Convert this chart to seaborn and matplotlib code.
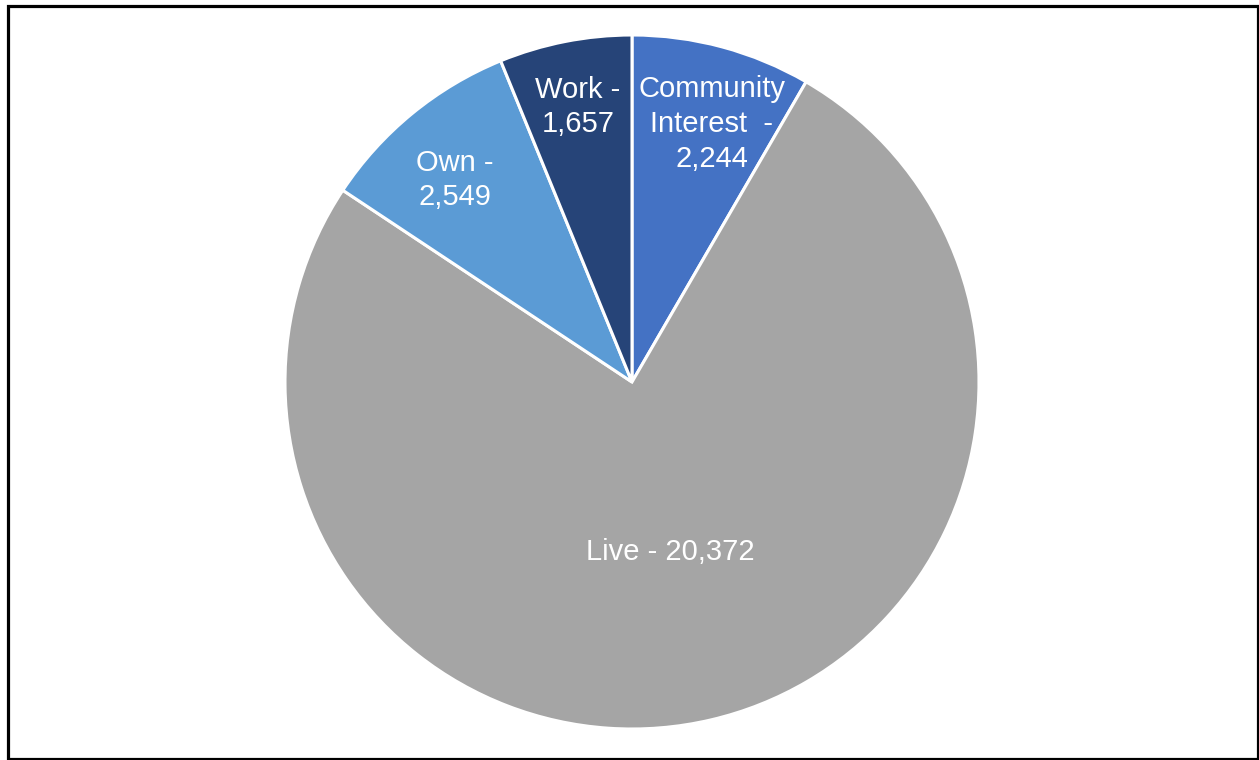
import numpy as np
import seaborn as sns
import matplotlib.pyplot as plt
from matplotlib.patches import Rectangle

sns.set_theme(style="white")
plt.rcParams['font.family'] = ['Liberation Sans', 'DejaVu Sans']

# data, in drawing order (clockwise from 12 o'clock)
categories = ["Community Interest", "Live", "Own", "Work"]
values = [2244, 20372, 2549, 1657]
labels = ["Community\nInterest  -\n2,244", "Live - 20,372", "Own -\n2,549", "Work -\n1,657"]
colors = ["#4472C4", "#A5A5A5", "#5B9BD5", "#264478"]
label_dist = [0.778, 0.502, 0.774, 0.808]
label_turn = [-2.1, -0.6, 1.9, 0.0]   # small nudge (deg) from the wedge mid angle

fig = plt.figure(figsize=(12.59, 7.60), dpi=100)
ax = fig.add_axes([0, 0, 1, 1])

wedges, _ = ax.pie(values, colors=colors, startangle=90, counterclock=False,
                   radius=1, wedgeprops=dict(edgecolor="white", linewidth=2.2))

# label each wedge near its mid angle
for w, lab, d, t in zip(wedges, labels, label_dist, label_turn):
    ang = np.deg2rad((w.theta1 + w.theta2) / 2 + t)
    ax.text(d * np.cos(ang), d * np.sin(ang), lab, color="white",
            fontsize=21, ha="center", va="center", linespacing=1.3)

# scale: pie radius ~347 px, centre at (632, 382) from top-left
ax.set_aspect("auto")
ax.set_xlim(-632 / 347, (1259 - 632) / 347)
ax.set_ylim(-378 / 347, 382 / 347)
ax.axis("off")

# outer black frame
fig.patches.append(Rectangle((7.5 / 1259, 1 / 760), (1257.5 - 7.5) / 1259, (754 - 1) / 760,
                             transform=fig.transFigure, fill=False,
                             edgecolor="black", linewidth=2.3))

fig.savefig("out.png", dpi=100)
